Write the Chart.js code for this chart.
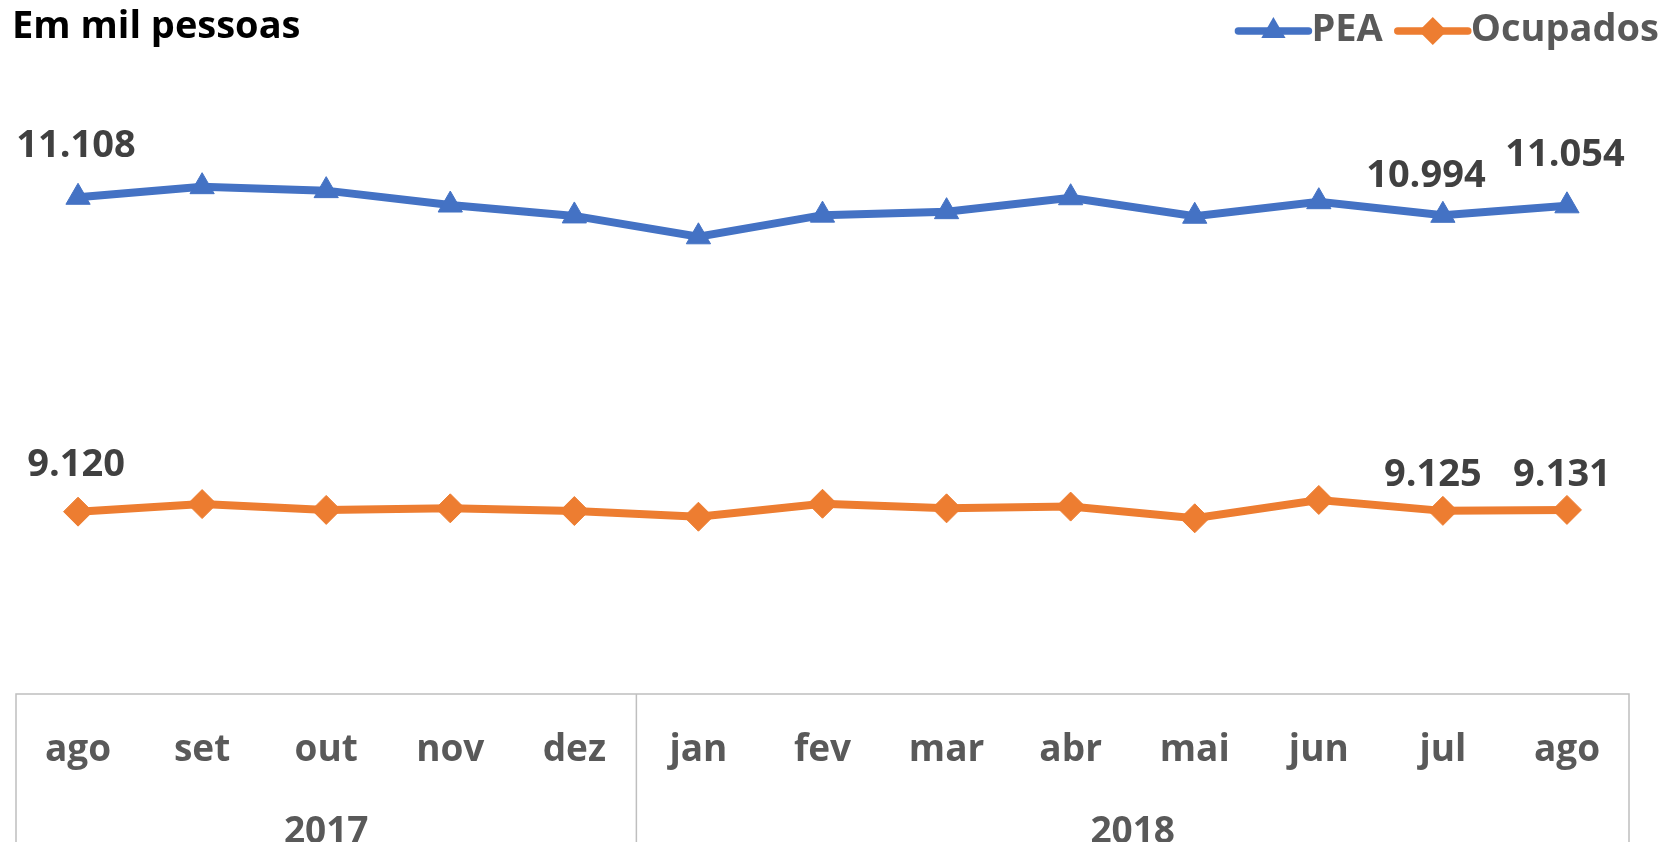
<!DOCTYPE html>
<html lang="pt-BR">
<head>
<meta charset="utf-8">
<title>PEA e Ocupados</title>
<script src="https://cdn.jsdelivr.net/npm/chart.js@4.4.1/dist/chart.umd.min.js"></script>
<style>
  html, body { margin: 0; padding: 0; background: #fff; }
  .chart_box { width: 1661px; height: 842px; }
</style>
</head>
<body>
<div class="chart_box"><canvas id="myChart" width="1661" height="842"></canvas></div>
<script>
"use strict";

// Data

const months = ["ago", "set", "out", "nov", "dez", "jan", "fev", "mar", "abr", "mai", "jun", "jul", "ago"];
const years = ["2017", "2018"];
const yearStart = [0, 5];
const yearEnd = [4, 12];
const pea = [11108, 11175, 11150, 11059, 10990, 10858, 10995, 11017, 11105, 10988, 11080, 10994, 11054];
const ocupados = [9120, 9168, 9131, 9141, 9124, 9088, 9170, 9141, 9152, 9078, 9194, 9125, 9131];
const labeledPoints = [0, 11, 12];

const FONT = "'Open Sans', sans-serif";
const BLUE = "#4472C4";
const ORANGE = "#ED7D31";

// number format pt-BR: 11.108
const fmt = (v) => v.toLocaleString("pt-BR");

// marker drawing for the legend
const drawMarker = (ctx, style, x, y, r, color) => {
  ctx.fillStyle = color;
  ctx.beginPath();
  if (style === "triangle") {
    ctx.moveTo(x, y - r);
    ctx.lineTo(x + r * 0.866, y + r / 2);
    ctx.lineTo(x - r * 0.866, y + r / 2);
  } else {
    ctx.moveTo(x, y - r);
    ctx.lineTo(x + r, y);
    ctx.lineTo(x, y + r);
    ctx.lineTo(x - r, y);
  }
  ctx.closePath();
  ctx.fill();
};

// plugin: title, legend, data labels, and the boxed two level x axis
const decorations = {
  id: "decorations",
  afterDatasetsDraw(chart, args, opts) {
    const ctx = chart.ctx;
    const area = chart.chartArea;
    const x = chart.scales.x;
    ctx.save();

    // title
    ctx.font = `bold 38px ${FONT}`;
    ctx.fillStyle = "#000";
    ctx.textAlign = "left";
    ctx.textBaseline = "middle";
    ctx.fillText("Em mil pessoas", 12, 27);

    // legend, right aligned
    ctx.font = `bold 38px ${FONT}`;
    let right = 1659;
    const items = chart.data.datasets.slice().reverse();
    items.forEach((ds) => {
      const w = ctx.measureText(ds.label).width;
      const textX = right - w;
      ctx.fillStyle = "#595959";
      ctx.fillText(ds.label, textX, 30);
      const lineEnd = textX - 3;
      const lineStart = lineEnd - 70;
      ctx.strokeStyle = ds.borderColor;
      ctx.lineWidth = 7.5;
      ctx.lineCap = "round";
      ctx.beginPath();
      ctx.moveTo(lineStart, 31);
      ctx.lineTo(lineEnd, 31);
      ctx.stroke();
      drawMarker(ctx, ds.pointStyle === "triangle" ? "triangle" : "diamond", (lineStart + lineEnd) / 2, 31, 14, ds.borderColor);
      right = lineStart - 15;
    });

    // data labels
    ctx.font = `bold 38px ${FONT}`;
    ctx.fillStyle = "#404040";
    ctx.textAlign = "center";
    chart.data.datasets.forEach((ds, di) => {
      const meta = chart.getDatasetMeta(di);
      const offs = opts.offsets[di];
      labeledPoints.forEach((idx, k) => {
        const p = meta.data[idx];
        ctx.fillText(fmt(ds.data[idx]), p.x + offs[k][0], p.y + offs[k][1]);
      });
    });

    // x axis box
    const top = area.bottom;
    const bottom = chart.height;
    ctx.strokeStyle = "#BFBFBF";
    ctx.lineWidth = 1.5;
    ctx.lineCap = "butt";
    ctx.beginPath();
    ctx.moveTo(area.left, bottom);
    ctx.lineTo(area.left, top);
    ctx.lineTo(area.right, top);
    ctx.lineTo(area.right, bottom);
    const split = (x.getPixelForValue(yearEnd[0]) + x.getPixelForValue(yearStart[1])) / 2;
    ctx.moveTo(split, top);
    ctx.lineTo(split, bottom);
    ctx.stroke();

    ctx.font = `bold 37px ${FONT}`;
    ctx.fillStyle = "#595959";
    months.forEach((m, i) => {
      ctx.fillText(m, x.getPixelForValue(i), top + 56);
    });
    years.forEach((y, i) => {
      const cx = (x.getPixelForValue(yearStart[i]) + x.getPixelForValue(yearEnd[i])) / 2;
      ctx.fillText(y, cx, top + 138);
    });

    ctx.restore();
  },
};

const ctx = document.getElementById("myChart").getContext("2d");
const myChart = new Chart(ctx, {
  type: "line",
  data: {
    labels: months,
    datasets: [
      {
        label: "PEA",
        data: pea,
        borderColor: BLUE,
        backgroundColor: BLUE,
        borderWidth: 8,
        pointStyle: "triangle",
        pointRadius: 14,
        pointBorderWidth: 1,
        pointBackgroundColor: BLUE,
        pointBorderColor: BLUE,
        tension: 0,
      },
      {
        label: "Ocupados",
        data: ocupados,
        borderColor: ORANGE,
        backgroundColor: ORANGE,
        borderWidth: 8,
        pointStyle: "rectRot",
        pointRadius: 14.5,
        pointBorderWidth: 1,
        pointBackgroundColor: ORANGE,
        pointBorderColor: ORANGE,
        tension: 0,
      },
    ],
  },
  options: {
    responsive: false,
    animation: false,
    devicePixelRatio: 1,
    layout: {
      padding: { left: 16, right: 32, top: 60, bottom: 148 },
    },
    scales: {
      x: { display: false, offset: true },
      y: { display: false, min: 7967, max: 11976 },
    },
    plugins: {
      legend: { display: false },
      tooltip: { enabled: false },
      decorations: {
        offsets: [
          [[-2, -51], [-17, -39], [-2, -51]],
          [[-2, -46], [-10, -36], [-5, -35]],
        ],
      },
    },
  },
  plugins: [decorations],
});
</script>
</body>
</html>
